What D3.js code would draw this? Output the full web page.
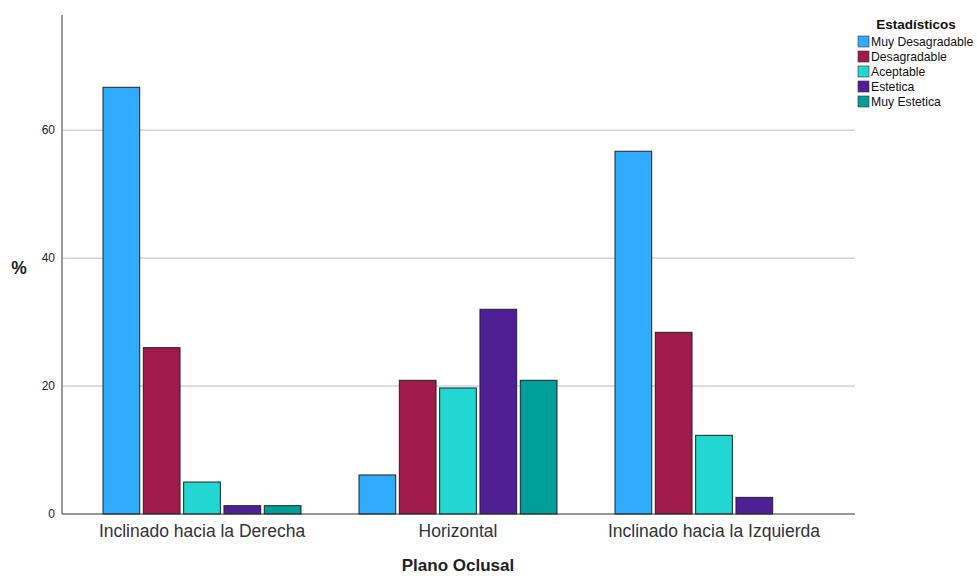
<!DOCTYPE html>
<html><head><meta charset="utf-8">
<script src="https://cdn.jsdelivr.net/npm/d3@7"></script>
<style>body{margin:0;background:#fff}svg{display:block;font-family:"Liberation Sans",Arial,sans-serif}</style>
</head><body><svg id="c" width="977" height="576"></svg>
<script>
const categories = ["Inclinado hacia la Derecha","Horizontal","Inclinado hacia la Izquierda"];
const series = ["Muy Desagradable","Desagradable","Aceptable","Estetica","Muy Estetica"];
const colors = ["#30abff","#a01a4c","#22d6d2","#4f1f95","#009e9a"];
const valMuyDesagradable = [66.7, 6.1, 56.7];
const valDesagradable = [26.0, 20.9, 28.4];
const valAceptable = [5.0, 19.7, 12.3];
const valEstetica = [1.3, 32.0, 2.6];
const valMuyEstetica = [1.3, 20.9, 0];
const yTicks = [0,20,40,60];
const values = [valMuyDesagradable,valDesagradable,valAceptable,valEstetica,valMuyEstetica];

const svg = d3.select("#c");
const y = d3.scaleLinear().domain([0,78]).range([514,15]);
const x0 = d3.scaleBand().domain(categories).range([74,842]).padding(0);
const x1 = d3.scaleBand().domain(series).range([29,227]).paddingInner(0.09).paddingOuter(0);

// gridlines
svg.append("g").selectAll("line").data(yTicks.filter(d=>d>0)).join("line")
  .attr("x1",62).attr("x2",855).attr("y1",d=>y(d)).attr("y2",d=>y(d))
  .attr("stroke","#bdbdbd").attr("stroke-width",1);

// bars
const g = svg.append("g");
categories.forEach((c,ci)=>{
  series.forEach((s,si)=>{
    const v = values[si][ci];
    if(v<=0) return;
    g.append("rect")
      .attr("x", x0(c)+x1(s)).attr("width", x1.bandwidth())
      .attr("y", y(v)).attr("height", y(0)-y(v))
      .attr("fill", colors[si]).attr("stroke","#222").attr("stroke-width",1);
  });
});

// y axis
const ya = svg.append("g").attr("transform","translate(62,0)")
  .call(d3.axisLeft(y).tickValues(yTicks).tickSize(0).tickPadding(7));
ya.select(".domain").attr("stroke","#777").attr("stroke-width",1.5).attr("d","M0,15V514");
ya.selectAll("text").attr("font-size",12).attr("fill","#222").attr("font-family","Liberation Sans, Arial, sans-serif");

// x axis
const xa = svg.append("g").attr("transform","translate(0,514)")
  .call(d3.axisBottom(x0).tickSize(0).tickPadding(11));
xa.select(".domain").attr("stroke","#333").attr("stroke-width",1).attr("d","M62,0H855");
xa.selectAll("text").attr("font-size",17.5).attr("fill","#333").attr("font-family","Liberation Sans, Arial, sans-serif");

// axis titles
svg.append("text").attr("x",458).attr("y",571).attr("text-anchor","middle")
  .attr("font-size",17).attr("font-weight","bold").attr("fill","#222").text("Plano Oclusal");
svg.append("text").attr("x",19).attr("y",274).attr("text-anchor","middle")
  .attr("font-size",17.5).attr("font-weight","bold").attr("fill","#222").text("%");

// legend
const lg = svg.append("g");
lg.append("text").attr("x",916).attr("y",29).attr("text-anchor","middle")
  .attr("font-size",13.5).attr("font-weight","bold").attr("fill","#111").text("Estadísticos");
series.forEach((s,i)=>{
  lg.append("rect").attr("x",858).attr("y",36+i*15).attr("width",11).attr("height",11)
    .attr("fill",colors[i]).attr("stroke","#333").attr("stroke-width",0.6);
  lg.append("text").attr("x",871).attr("y",46+i*15).attr("font-size",12.2).attr("fill","#111").text(s);
});
</script></body></html>
